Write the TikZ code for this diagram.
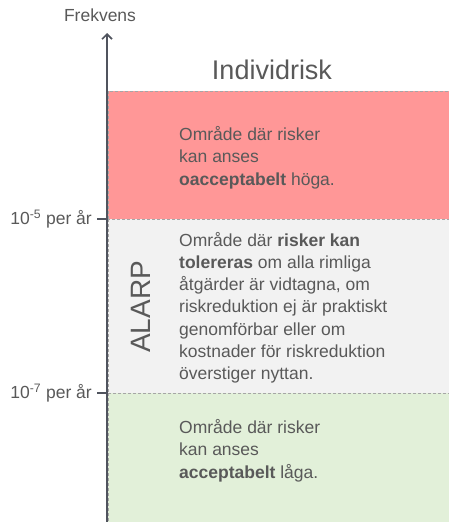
\documentclass[tikz,border=0pt]{standalone}
\usepackage{fontspec}
\setmainfont{Liberation Sans}
\usetikzlibrary{arrows.meta}
\definecolor{axisc}{HTML}{50545E}
\definecolor{txtc}{HTML}{595959}
\definecolor{redband}{HTML}{FF9797}
\definecolor{greyband}{HTML}{F2F2F2}
\definecolor{greenband}{HTML}{E2F0D9}
\definecolor{dashc}{HTML}{A6A6A6}
\tikzset{
  band/.style={draw=dashc, dashed, dash pattern=on 3pt off 2pt, line width=0.8pt},
  bandtext/.style={anchor=north west, inner sep=0pt, align=left, text=txtc,
    font=\fontsize{17.5}{22.6}\selectfont},
  ticklabel/.style={anchor=east, inner sep=0pt, text=txtc, font=\fontsize{17.5}{19}\selectfont},
  axisline/.style={draw=axisc, line width=1.6pt},
}
\begin{document}
\begin{tikzpicture}[x=1pt,y=-1pt]
\useasboundingbox (0,0) rectangle (449,522);
\begin{scope}
\clip (0,0) rectangle (449,522);
\filldraw[band, fill=redband] (108,91) rectangle (455,219);
\filldraw[band, fill=greyband] (108,219) rectangle (455,393);
\filldraw[band, fill=greenband] (108,393) rectangle (455,530);
\end{scope}
% axis
\coordinate (axbot) at (107,522);
\node[inner sep=0pt, text=txtc, font=\fontsize{17.5}{19}\selectfont] (frek) at (100,15) {Frekvens};
\coordinate (axtop) at (107,33);
\draw[axisline, -{Straight Barb[length=5pt,width=10pt]}] (axbot) -- (axtop);
% ticks
\coordinate (t5a) at (97,219);
\coordinate (t5b) at (108,219);
\coordinate (t7a) at (97,393);
\coordinate (t7b) at (108,393);
\draw[axisline] (t5a) -- (t5b);
\draw[axisline] (t7a) -- (t7b);
\node[ticklabel] (l5) at (92,219) {10\textsuperscript{-5} per år};
\node[ticklabel] (l7) at (92,393) {10\textsuperscript{-7} per år};
% title
\node[inner sep=0pt, text=txtc, font=\fontsize{27}{29}\selectfont] (title) at (272,70) {Individrisk};
% ALARP
\node[inner sep=0pt, text=txtc, rotate=90, font=\fontsize{28}{30}\selectfont] (alarp) at (141,307) {ALARP};
% texts
\node[bandtext] (redtxt) at (179,126) {Område där risker\\kan anses\\\textbf{oacceptabelt} höga.};
\node[bandtext, font=\fontsize{17.5}{22.2}\selectfont] (greytxt) at (179,232) {Område där \textbf{risker kan}\\\textbf{tolereras} om alla rimliga\\åtgärder är vidtagna, om\\riskreduktion ej är praktiskt\\genomförbar eller om\\kostnader för riskreduktion\\överstiger nyttan.};
\node[bandtext] (greentxt) at (179,419) {Område där risker\\kan anses\\\textbf{acceptabelt} låga.};
\end{tikzpicture}
\end{document}
